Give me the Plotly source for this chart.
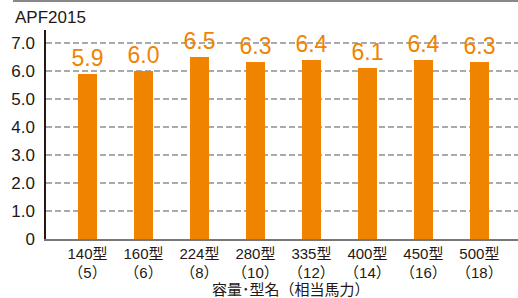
import plotly.graph_objects as go

categories = ["140型", "160型", "224型", "280型", "335型", "400型", "450型", "500型"]
horsepower = ["（5）", "（6）", "（8）", "（10）", "（12）", "（14）", "（16）", "（18）"]
apf_values = [5.9, 6.0, 6.5, 6.3, 6.4, 6.1, 6.4, 6.3]
y_ticks = [0, 1, 2, 3, 4, 5, 6, 7]
y_tick_labels = ["0", "1.0", "2.0", "3.0", "4.0", "5.0", "6.0", "7.0"]

FONT = "Liberation Sans, Arial, Noto Sans CJK JP, sans-serif"
ORANGE = "#F08300"
TEXT = "#231815"

W, H = 518, 298
L, R, T, B = 46, 0, 30, 59
plot_w = W - L - R
plot_h = H - T - B

fig = go.Figure()
fig.add_trace(go.Bar(
    x=list(range(len(categories))),
    y=apf_values,
    width=0.34,
    marker=dict(color=ORANGE, line=dict(width=0)),
    text=[f"{v:.1f}" for v in apf_values],
    textposition="outside",
    constraintext="none",
    textfont=dict(color=ORANGE, size=23, family=FONT),
    cliponaxis=False,
    hoverinfo="skip",
))

fig.update_layout(
    width=W, height=H,
    margin=dict(l=L, r=R, t=T, b=B),
    paper_bgcolor="white", plot_bgcolor="white",
    showlegend=False,
    font=dict(family=FONT, color=TEXT, size=15),
    bargap=0,
    xaxis=dict(
        range=[-0.741, 7.69],
        tickmode="array",
        tickvals=list(range(len(categories))),
        ticktext=[f"{c}<br>{h}" for c, h in zip(categories, horsepower)],
        tickfont=dict(size=15, color=TEXT, family=FONT),
        showgrid=False, zeroline=False,
        showline=True, linecolor="#777", linewidth=1.5,
        ticks="", ticklen=0,
    ),
    yaxis=dict(
        range=[0, plot_h / 28.04],
        tickmode="array",
        tickvals=y_ticks,
        ticktext=y_tick_labels,
        tickfont=dict(size=17, color=TEXT, family=FONT),
        showgrid=True, gridcolor="#AAAAAA", gridwidth=1.5, griddash="6px,3px",
        zeroline=False,
        showline=True, linecolor="#231815", linewidth=1.5,
        ticks="", ticklabelstandoff=6,
    ),
)

fig.add_annotation(
    text="APF2015", xref="paper", yref="paper",
    x=(13 - L) / plot_w, y=(H - B - 18) / plot_h,
    xanchor="left", yanchor="middle", showarrow=False,
    font=dict(size=17, color=TEXT, family=FONT),
)
fig.add_annotation(
    text="容量･型名（相当馬力）", xref="paper", yref="paper",
    x=(291 - L) / plot_w, y=-(289 - (H - B)) / plot_h,
    xanchor="center", yanchor="middle", showarrow=False,
    font=dict(size=15, color=TEXT, family=FONT),
)
# thin gray rule across the top edge
fig.add_shape(
    type="rect", xref="paper", yref="paper",
    x0=(13 - L) / plot_w, x1=1, y0=(H - B - 2) / plot_h, y1=(H - B) / plot_h,
    line=dict(width=0), fillcolor="#888888", layer="above",
)

fig.write_html(
    "out.html",
    config={"displayModeBar": False},
    post_script="document.body.style.margin='0';document.body.style.padding='0';",
)
